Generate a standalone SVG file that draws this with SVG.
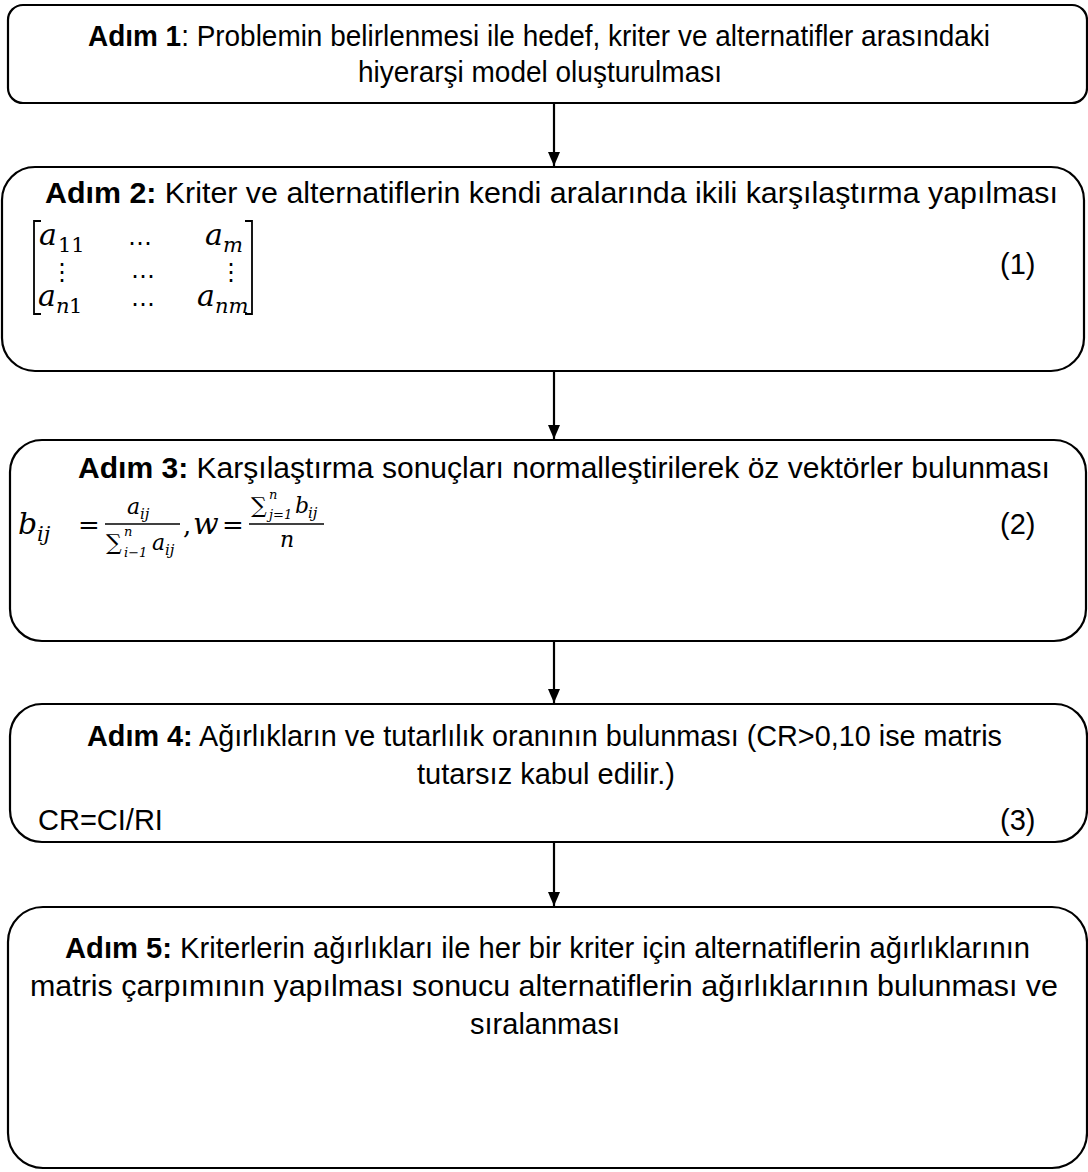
<svg xmlns="http://www.w3.org/2000/svg" width="1088" height="1172" viewBox="0 0 1088 1172">
<defs>
<style>
.box{fill:#fff;stroke:#000;stroke-width:2.2}
.t{font-family:"Liberation Sans",Arial,sans-serif;font-size:29px;fill:#000}
.b{font-weight:bold}
.m{font-family:"DejaVu Serif",serif;font-style:italic;font-size:30px;fill:#000}
.mn{font-family:"DejaVu Serif",serif;font-size:26px;fill:#000}
.ms{font-family:"DejaVu Serif",serif;font-style:italic;font-size:21px;fill:#000}
.mu{font-family:"DejaVu Serif",serif;font-size:21px;fill:#000}
.f{font-family:"DejaVu Serif",serif;font-style:italic;font-size:22px;fill:#000}
.fs{font-family:"DejaVu Serif",serif;font-style:italic;font-size:15px;fill:#000}
.fx{font-family:"DejaVu Serif",serif;font-style:italic;font-size:13px;fill:#000}
.fu{font-family:"DejaVu Serif",serif;font-size:22px;fill:#000}
.dots{font-family:"DejaVu Sans",sans-serif;font-size:24px;fill:#000}
.con{stroke:#000;stroke-width:2.2;fill:none}
</style>
<marker id="ah" viewBox="0 0 14 12" refX="14" refY="6" markerWidth="14" markerHeight="12" markerUnits="userSpaceOnUse" orient="auto">
<path d="M0,0 L14,6 L0,12 Z" fill="#000"/>
</marker>
</defs>
<rect width="1088" height="1172" fill="#fff"/>

<g id="connectors">
<line class="con" x1="554" y1="103" x2="554" y2="166" marker-end="url(#ah)"/>
<line class="con" x1="554" y1="371" x2="554" y2="439" marker-end="url(#ah)"/>
<line class="con" x1="554" y1="641" x2="554" y2="703" marker-end="url(#ah)"/>
<line class="con" x1="554" y1="842" x2="554" y2="906" marker-end="url(#ah)"/>
</g>

<g id="step1">
<rect class="box" x="8" y="5" width="1079" height="98" rx="15"/>
<text class="t" x="88" y="46" textLength="902" lengthAdjust="spacingAndGlyphs"><tspan class="b">Adım 1</tspan>: Problemin belirlenmesi ile hedef, kriter ve alternatifler arasındaki</text>
<text class="t" x="358" y="82" textLength="364" lengthAdjust="spacingAndGlyphs">hiyerarşi model oluşturulması</text>
</g>

<g id="step2">
<rect class="box" x="2" y="167" width="1082" height="204" rx="33"/>
<text class="t" x="45" y="203" textLength="1013" lengthAdjust="spacingAndGlyphs"><tspan class="b">Adım 2:</tspan> Kriter ve alternatiflerin kendi aralarında ikili karşılaştırma yapılması</text>
<path d="M41,221 L34,221 L34,314 L41,314" fill="none" stroke="#000" stroke-width="1.8"/>
<path d="M245,221 L252,221 L252,314 L245,314" fill="none" stroke="#000" stroke-width="1.8"/>
<text class="m" x="39" y="245">a</text><text class="mu" x="58" y="252">11</text>
<text class="dots" x="128" y="245">…</text>
<text class="m" x="205" y="245">a</text><text class="ms" x="223" y="252">m</text>
<text class="dots" x="50" y="280">⋮</text>
<text class="dots" x="131" y="278">…</text>
<text class="dots" x="219" y="280">⋮</text>
<text class="m" x="38" y="306">a</text><text class="ms" x="56" y="313">n</text><text class="mu" x="69" y="313">1</text>
<text class="dots" x="131" y="306">…</text>
<text class="m" x="197" y="306">a</text><text class="ms" x="215" y="313">nm</text>
<text class="t" x="1000" y="274">(1)</text>
</g>

<g id="step3">
<rect class="box" x="10" y="440" width="1076" height="201" rx="32"/>
<text class="t" x="78" y="478" textLength="972" lengthAdjust="spacingAndGlyphs"><tspan class="b">Adım 3:</tspan> Karşılaştırma sonuçları normalleştirilerek öz vektörler bulunması</text>
<text class="m" x="18" y="534">b</text><text class="ms" x="37" y="541">ij</text>
<text class="mn" x="78" y="534">=</text>
<text class="f" x="127" y="514">a</text><text class="fs" x="140" y="519">ij</text>
<line x1="105" y1="524" x2="180" y2="524" stroke="#000" stroke-width="1.5"/>
<text class="fu" x="106" y="550">∑</text><text class="fx" x="124" y="536">n</text><text class="fx" x="124" y="557">i−1</text><text class="f" x="152" y="550">a</text><text class="fs" x="165" y="555">ij</text>
<text class="mn" x="183" y="534">,</text>
<text class="m" x="193" y="534">w</text>
<text class="mn" x="222" y="534">=</text>
<text class="fu" x="251" y="513">∑</text><text class="fx" x="269" y="499">n</text><text class="fx" x="269" y="519">j=1</text><text class="f" x="295" y="513">b</text><text class="fs" x="308" y="518">ij</text>
<line x1="249" y1="524" x2="324" y2="524" stroke="#000" stroke-width="1.5"/>
<text class="f" x="280" y="547">n</text>
<text class="t" x="1000" y="534">(2)</text>
</g>

<g id="step4">
<rect class="box" x="10" y="704" width="1077" height="138" rx="32"/>
<text class="t" x="87" y="746" textLength="915" lengthAdjust="spacingAndGlyphs"><tspan class="b">Adım 4:</tspan> Ağırlıkların ve tutarlılık oranının bulunması (CR&gt;0,10 ise matris</text>
<text class="t" x="546" y="784" text-anchor="middle">tutarsız kabul edilir.)</text>
<text class="t" x="38" y="830">CR=CI/RI</text>
<text class="t" x="1000" y="830">(3)</text>
</g>

<g id="step5">
<rect class="box" x="8" y="907" width="1079" height="261" rx="35"/>
<text class="t" x="65" y="958" textLength="965" lengthAdjust="spacingAndGlyphs"><tspan class="b">Adım 5:</tspan> Kriterlerin ağırlıkları ile her bir kriter için alternatiflerin ağırlıklarının</text>
<text class="t" x="30" y="996" textLength="1028" lengthAdjust="spacingAndGlyphs">matris çarpımının yapılması sonucu alternatiflerin ağırlıklarının bulunması ve</text>
<text class="t" x="545" y="1034" text-anchor="middle">sıralanması</text>
</g>
</svg>
